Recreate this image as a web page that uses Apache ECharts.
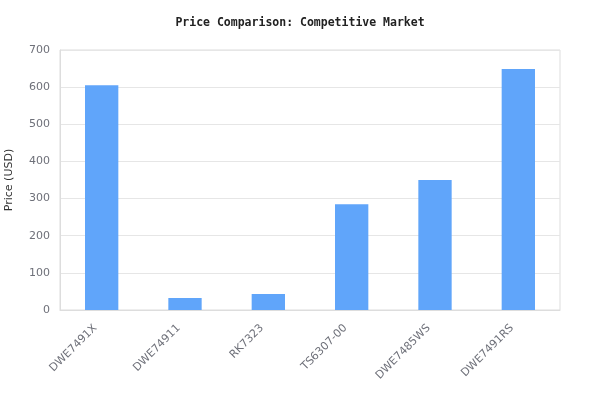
<!DOCTYPE html>
<html><head><meta charset="utf-8">
<script src="https://cdn.jsdelivr.net/npm/echarts@6/dist/echarts.min.js"></script>
<style>html,body{margin:0;padding:0;background:#fff}#c{width:600px;height:420px}</style>
</head><body><div id="c"></div>
<script>
const categories = ["DWE7491X", "DWE74911", "RK7323", "TS6307-00", "DWE7485WS", "DWE7491RS"];
const prices = [605, 32, 43, 285, 350, 649];
const yTicks = [0, 100, 200, 300, 400, 500, 600, 700];

const chart = echarts.init(document.getElementById('c'), null, {renderer: 'canvas'});
chart.setOption({
  animation: false,
  backgroundColor: '#ffffff',
  textStyle: {fontFamily: 'DejaVu Sans'},
  title: {
    text: 'Price Comparison: Competitive Market',
    left: 'center', top: 12,
    textStyle: {fontFamily: 'DejaVu Sans Mono', fontWeight: 'bold', fontSize: 11.5, color: '#222'}
  },
  grid: {left: 60, right: 40, top: 50, bottom: 110, show: true, borderColor: '#dddddd', borderWidth: 1, outerBoundsMode: 'none', containLabel: false},
  xAxis: {
    type: 'category', data: categories,
    axisLine: {lineStyle: {color: '#dddddd'}},
    axisTick: {show: false},
    axisLabel: {rotate: 45, color: '#6e7079', fontSize: 11, interval: 0, margin: 10, padding: [0, 9, 0, 0], fontFamily: 'DejaVu Sans'}
  },
  yAxis: {
    type: 'value', min: yTicks[0], max: yTicks[yTicks.length - 1], interval: 100,
    name: 'Price (USD)', nameLocation: 'middle', nameGap: 45,
    nameTextStyle: {color: '#333', fontSize: 11, fontFamily: 'DejaVu Sans'},
    axisLine: {show: true, lineStyle: {color: '#dddddd'}},
    axisLabel: {color: '#6e7079', fontSize: 11, margin: 10, fontFamily: 'DejaVu Sans'},
    splitLine: {lineStyle: {color: '#e6e6e6'}}
  },
  series: [{
    type: 'bar', data: prices, barWidth: '40%',
    itemStyle: {color: '#60a5fa'}
  }]
});
</script></body></html>
